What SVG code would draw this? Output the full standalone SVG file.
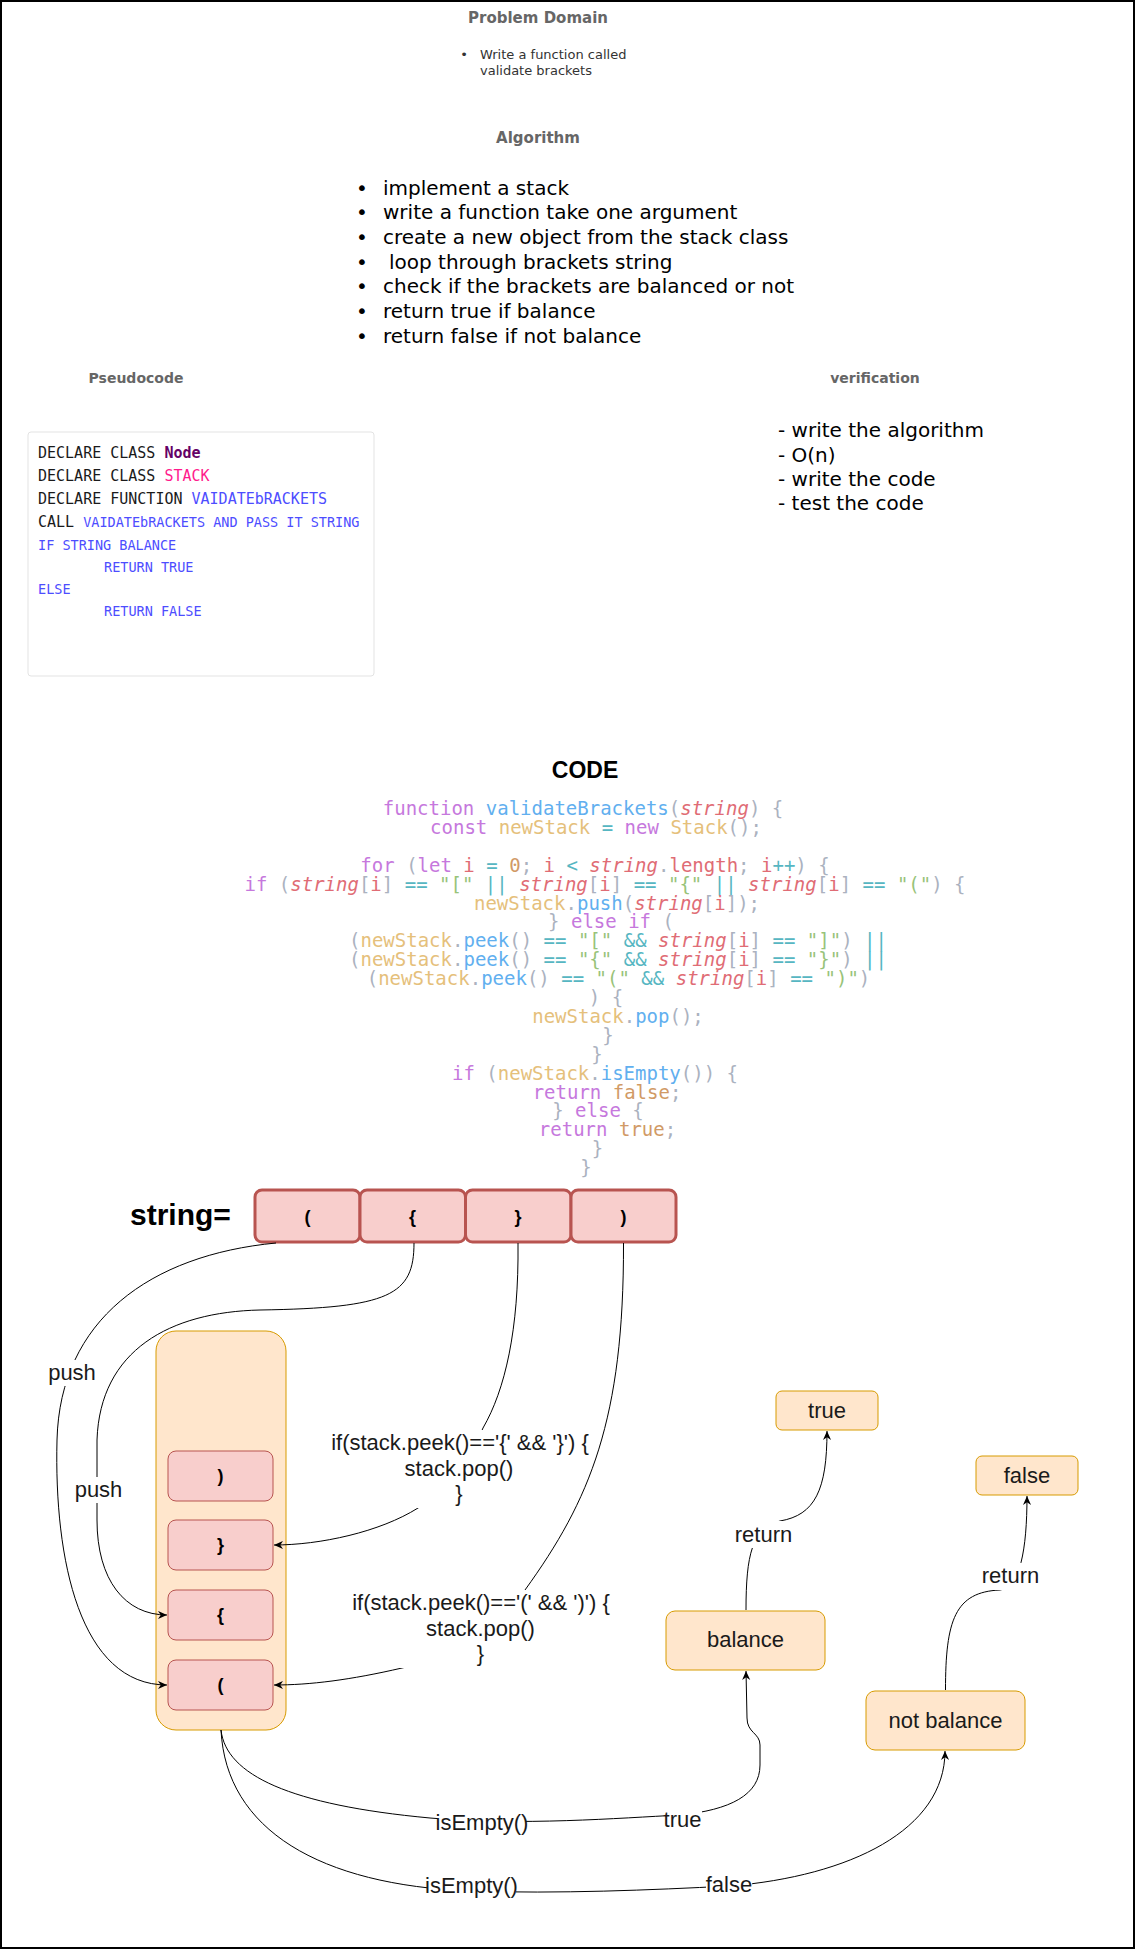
<svg xmlns="http://www.w3.org/2000/svg" width="1136" height="1951" viewBox="0 0 1136 1951">
<defs>
<style>
.title{font-family:"DejaVu Sans",sans-serif;font-weight:bold;font-size:14px;fill:#666666;text-anchor:middle}
.comic{font-family:"DejaVu Sans",sans-serif;font-size:20px;fill:#000}
.pd{font-family:"DejaVu Sans",sans-serif;font-size:13px;fill:#333}
.pc{font-family:"DejaVu Sans Mono",monospace;font-size:15px;fill:#1a1a1a}
.pcs{font-size:13.5px}
.blue{fill:#4d4dff}
.code{font-family:"DejaVu Sans Mono",monospace;font-size:19px;text-anchor:middle}
.k{fill:#c678dd}.f{fill:#61afef}.v{fill:#e06c75;font-style:italic}.r{fill:#e06c75}.y{fill:#e5c07b}.o{fill:#56b6c2}.s{fill:#98c379}.n{fill:#d19a66}.p{fill:#abb2bf}
.sbox{fill:#f8cecc;stroke:#b85450;stroke-width:3}
.ibox{fill:#f8cecc;stroke:#b85450;stroke-width:1}
.obox{fill:#ffe6cc;stroke:#d79b00;stroke-width:1}
.btxt{font-family:"Liberation Sans",Arial,sans-serif;font-weight:bold;font-size:18px;fill:#000;text-anchor:middle}
.ntxt{font-family:"Liberation Sans",Arial,sans-serif;font-size:22px;fill:#1a1a1a;text-anchor:middle}
.lbl{font-family:"Liberation Sans",Arial,sans-serif;font-size:22px;fill:#1a1a1a;text-anchor:middle}
.edge{fill:none;stroke:#000;stroke-width:1}
.lbg{fill:#fff}
</style>
<marker id="arr" viewBox="0 0 10 10" refX="10" refY="5" markerWidth="10" markerHeight="9" markerUnits="userSpaceOnUse" orient="auto">
<path d="M0,0.5 L10,5 L0,9.5 L3,5 z" fill="#000"/>
</marker>
</defs>
<rect x="1" y="1" width="1133" height="1947" fill="#fff" stroke="#000" stroke-width="2"/>

<g id="node-problem-domain">
<text class="title" x="538" y="23" style="font-size:15px">Problem Domain</text>
<text class="pd" x="464" y="59" text-anchor="middle">•</text>
<text class="pd" x="480" y="59">Write a function called</text>
<text class="pd" x="480" y="75">validate brackets</text>
</g>

<g id="node-algorithm">
<text class="title" x="538" y="143" style="font-size:15px">Algorithm</text>
<g class="comic">
<text x="362" y="194.5" text-anchor="middle">•</text><text x="383" y="194.5">implement a stack</text>
<text x="362" y="219.2" text-anchor="middle">•</text><text x="383" y="219.2">write a function take one argument</text>
<text x="362" y="243.9" text-anchor="middle">•</text><text x="383" y="243.9">create a new object from the stack class</text>
<text x="362" y="268.6" text-anchor="middle">•</text><text x="389" y="268.6">loop through brackets string</text>
<text x="362" y="293.3" text-anchor="middle">•</text><text x="383" y="293.3">check if the brackets are balanced or not</text>
<text x="362" y="318" text-anchor="middle">•</text><text x="383" y="318">return true if balance</text>
<text x="362" y="342.7" text-anchor="middle">•</text><text x="383" y="342.7">return false if not balance</text>
</g>
</g>

<g id="node-pseudocode">
<text class="title" x="136" y="383">Pseudocode</text>
<rect x="28" y="432" width="346" height="244" rx="3" fill="#fff" stroke="#e3e3e3" stroke-width="1"/>
<text class="pc" x="38" y="458">DECLARE CLASS <tspan style="fill:#660066;font-weight:bold">Node</tspan></text>
<text class="pc" x="38" y="481">DECLARE CLASS <tspan style="fill:#ff1a8c">STACK</tspan></text>
<text class="pc" x="38" y="504">DECLARE FUNCTION <tspan class="blue">VAIDATEbRACKETS</tspan></text>
<text class="pc" x="38" y="527">CALL <tspan class="blue pcs">VAIDATEbRACKETS AND PASS IT STRING</tspan></text>
<text class="pc pcs blue" x="38" y="550">IF STRING BALANCE</text>
<text class="pc pcs blue" x="104" y="572">RETURN TRUE</text>
<text class="pc pcs blue" x="38" y="594">ELSE</text>
<text class="pc pcs blue" x="104" y="616">RETURN FALSE</text>
</g>

<g id="node-verification">
<text class="title" x="875" y="383">verification</text>
<g class="comic">
<text x="778" y="437">- write the algorithm</text>
<text x="778" y="461.5">- O(n)</text>
<text x="778" y="485.5">- write the code</text>
<text x="778" y="509.5">- test the code</text>
</g>
</g>

<g id="node-code">
<text x="585" y="778" text-anchor="middle" style="font-family:'Liberation Sans',Arial,sans-serif;font-weight:bold;font-size:23px;fill:#000">CODE</text>
<g class="code">
<text x="583" y="815"><tspan class="k">function</tspan> <tspan class="f">validateBrackets</tspan><tspan class="p">(</tspan><tspan class="v">string</tspan><tspan class="p">) {</tspan></text>
<text x="596" y="833.9"><tspan class="k">const</tspan> <tspan class="y">newStack</tspan> <tspan class="o">=</tspan> <tspan class="k">new</tspan> <tspan class="y">Stack</tspan><tspan class="p">();</tspan></text>
<text x="595" y="871.7"><tspan class="k">for</tspan> <tspan class="p">(</tspan><tspan class="k">let</tspan> <tspan class="r">i</tspan> <tspan class="o">=</tspan> <tspan class="n">0</tspan><tspan class="p">;</tspan> <tspan class="r">i</tspan> <tspan class="o">&lt;</tspan> <tspan class="v">string</tspan><tspan class="p">.</tspan><tspan class="r">length</tspan><tspan class="p">;</tspan> <tspan class="r">i</tspan><tspan class="o">++</tspan><tspan class="p">) {</tspan></text>
<text x="605" y="890.6"><tspan class="k">if</tspan> <tspan class="p">(</tspan><tspan class="v">string</tspan><tspan class="p">[</tspan><tspan class="r">i</tspan><tspan class="p">]</tspan> <tspan class="o">==</tspan> <tspan class="s">"["</tspan> <tspan class="o">||</tspan> <tspan class="v">string</tspan><tspan class="p">[</tspan><tspan class="r">i</tspan><tspan class="p">]</tspan> <tspan class="o">==</tspan> <tspan class="s">"{"</tspan> <tspan class="o">||</tspan> <tspan class="v">string</tspan><tspan class="p">[</tspan><tspan class="r">i</tspan><tspan class="p">]</tspan> <tspan class="o">==</tspan> <tspan class="s">"("</tspan><tspan class="p">) {</tspan></text>
<text x="617" y="909.5"><tspan class="y">newStack</tspan><tspan class="p">.</tspan><tspan class="f">push</tspan><tspan class="p">(</tspan><tspan class="v">string</tspan><tspan class="p">[</tspan><tspan class="r">i</tspan><tspan class="p">]);</tspan></text>
<text x="611" y="928.4"><tspan class="p">}</tspan> <tspan class="k">else</tspan> <tspan class="k">if</tspan> <tspan class="p">(</tspan></text>
<text x="618" y="947.3"><tspan class="p">(</tspan><tspan class="y">newStack</tspan><tspan class="p">.</tspan><tspan class="f">peek</tspan><tspan class="p">()</tspan> <tspan class="o">==</tspan> <tspan class="s">"["</tspan> <tspan class="o">&amp;&amp;</tspan> <tspan class="v">string</tspan><tspan class="p">[</tspan><tspan class="r">i</tspan><tspan class="p">]</tspan> <tspan class="o">==</tspan> <tspan class="s">"]"</tspan><tspan class="p">)</tspan> <tspan class="o">||</tspan></text>
<text x="618" y="966.2"><tspan class="p">(</tspan><tspan class="y">newStack</tspan><tspan class="p">.</tspan><tspan class="f">peek</tspan><tspan class="p">()</tspan> <tspan class="o">==</tspan> <tspan class="s">"{"</tspan> <tspan class="o">&amp;&amp;</tspan> <tspan class="v">string</tspan><tspan class="p">[</tspan><tspan class="r">i</tspan><tspan class="p">]</tspan> <tspan class="o">==</tspan> <tspan class="s">"}"</tspan><tspan class="p">)</tspan> <tspan class="o">||</tspan></text>
<text x="618.5" y="985.1"><tspan class="p">(</tspan><tspan class="y">newStack</tspan><tspan class="p">.</tspan><tspan class="f">peek</tspan><tspan class="p">()</tspan> <tspan class="o">==</tspan> <tspan class="s">"("</tspan> <tspan class="o">&amp;&amp;</tspan> <tspan class="v">string</tspan><tspan class="p">[</tspan><tspan class="r">i</tspan><tspan class="p">]</tspan> <tspan class="o">==</tspan> <tspan class="s">")"</tspan><tspan class="p">)</tspan></text>
<text x="606" y="1004"><tspan class="p">) {</tspan></text>
<text x="618" y="1022.9"><tspan class="y">newStack</tspan><tspan class="p">.</tspan><tspan class="f">pop</tspan><tspan class="p">();</tspan></text>
<text x="608" y="1041.8"><tspan class="p">}</tspan></text>
<text x="597" y="1060.7"><tspan class="p">}</tspan></text>
<text x="595" y="1079.6"><tspan class="k">if</tspan> <tspan class="p">(</tspan><tspan class="y">newStack</tspan><tspan class="p">.</tspan><tspan class="f">isEmpty</tspan><tspan class="p">()) {</tspan></text>
<text x="607" y="1098.5"><tspan class="k">return</tspan> <tspan class="n">false</tspan><tspan class="p">;</tspan></text>
<text x="598" y="1117.4"><tspan class="p">}</tspan> <tspan class="k">else</tspan> <tspan class="p">{</tspan></text>
<text x="607.5" y="1136.3"><tspan class="k">return</tspan> <tspan class="n">true</tspan><tspan class="p">;</tspan></text>
<text x="597.5" y="1155.2"><tspan class="p">}</tspan></text>
<text x="586" y="1174.1"><tspan class="p">}</tspan></text>
</g>
</g>

<g id="node-string-label">
<text x="130" y="1225" style="font-family:'Liberation Sans',Arial,sans-serif;font-weight:bold;font-size:30px;fill:#000">string=</text>
</g>
<g id="node-str-0"><rect class="sbox" x="255" y="1190" width="105" height="52" rx="7"/><text class="btxt" x="307.5" y="1223">(</text></g>
<g id="node-str-1"><rect class="sbox" x="360" y="1190" width="105.5" height="52" rx="7"/><text class="btxt" x="412.5" y="1223">{</text></g>
<g id="node-str-2"><rect class="sbox" x="465.5" y="1190" width="105.5" height="52" rx="7"/><text class="btxt" x="518" y="1223">}</text></g>
<g id="node-str-3"><rect class="sbox" x="571" y="1190" width="105" height="52" rx="7"/><text class="btxt" x="623.5" y="1223">)</text></g>

<g id="node-stack"><rect class="obox" x="156" y="1331" width="130" height="399" rx="20"/></g>
<g id="node-stack-3"><rect class="ibox" x="168" y="1451" width="105" height="50" rx="8"/><text class="btxt" x="220.5" y="1481.5">)</text></g>
<g id="node-stack-2"><rect class="ibox" x="168" y="1520" width="105" height="50" rx="8"/><text class="btxt" x="220.5" y="1550.5">}</text></g>
<g id="node-stack-1"><rect class="ibox" x="168" y="1590" width="105" height="50" rx="8"/><text class="btxt" x="220.5" y="1620.5">{</text></g>
<g id="node-stack-0"><rect class="ibox" x="168" y="1660" width="105" height="50" rx="8"/><text class="btxt" x="220.5" y="1690.5">(</text></g>

<g id="node-true"><rect class="obox" x="776" y="1391" width="102" height="39" rx="6"/><text class="ntxt" x="827" y="1418">true</text></g>
<g id="node-false"><rect class="obox" x="976" y="1456" width="102" height="39" rx="6"/><text class="ntxt" x="1027" y="1483">false</text></g>
<g id="node-balance"><rect class="obox" x="666" y="1611" width="159" height="59" rx="9"/><text class="ntxt" x="745.5" y="1647">balance</text></g>
<g id="node-notbalance"><rect class="obox" x="866" y="1691" width="159" height="59" rx="9"/><text class="ntxt" x="945.5" y="1728">not balance</text></g>

<g id="connectors">
<path class="edge" marker-end="url(#arr)" d="M276,1243 C150,1255 60,1320 57,1440 C54,1560 80,1685 167,1685"/>
<rect class="lbg" x="47" y="1360" width="50" height="26"/><text class="lbl" x="72" y="1380">push</text>

<path class="edge" marker-end="url(#arr)" d="M414,1243 C414,1295 390,1308 260,1310 C170,1312 100,1350 97,1440 L97,1520 C97,1580 125,1615 167,1615"/>
<rect class="lbg" x="74" y="1477" width="50" height="26"/><text class="lbl" x="98.5" y="1497">push</text>

<path class="edge" marker-end="url(#arr)" d="M518,1243 C519,1330 505,1390 483,1428 C470,1460 440,1495 418,1508 C380,1532 320,1545 274,1545"/>
<rect class="lbg" x="330" y="1430" width="260" height="78"/>
<text class="lbl" x="460" y="1450">if(stack.peek()=='{' &amp;&amp; '}') {</text>
<text class="lbl" x="459" y="1476">stack.pop()</text>
<text class="lbl" x="459" y="1501">}</text>

<path class="edge" marker-end="url(#arr)" d="M623.5,1243 C624,1420 590,1500 525,1590 C490,1640 440,1660 402,1668 C350,1680 310,1685 274,1685"/>
<rect class="lbg" x="351" y="1590" width="260" height="78"/>
<text class="lbl" x="481" y="1610">if(stack.peek()=='(' &amp;&amp; ')') {</text>
<text class="lbl" x="480.5" y="1636">stack.pop()</text>
<text class="lbl" x="480.5" y="1661">}</text>

<path class="edge" marker-end="url(#arr)" d="M746,1610 C746,1555 752,1528 780,1521 C815,1515 827,1490 827,1431"/>
<rect class="lbg" x="736" y="1521" width="55" height="27"/><text class="lbl" x="763.5" y="1541.5">return</text>

<path class="edge" marker-end="url(#arr)" d="M945.5,1690 C945.5,1620 955,1592 1000,1590 C1020,1588 1027,1550 1027,1496"/>
<rect class="lbg" x="983" y="1563" width="56" height="27"/><text class="lbl" x="1010.5" y="1583">return</text>

<path class="edge" marker-end="url(#arr)" d="M221,1730 C226,1775 290,1805 430,1818 C520,1826 620,1818 680,1815 C730,1810 760,1795 760,1765 L760,1745 C760,1733 747,1733 747,1718 L746,1671"/>
<rect class="lbg" x="438" y="1810" width="88" height="27"/><text class="lbl" x="482" y="1830">isEmpty()</text>
<rect class="lbg" x="664" y="1808" width="38" height="25"/><text class="lbl" x="682.5" y="1827">true</text>

<path class="edge" marker-end="url(#arr)" d="M221,1730 C226,1830 320,1885 470,1891 C560,1894 650,1890 730,1886 C850,1876 945,1830 945,1751"/>
<rect class="lbg" x="427" y="1873" width="89" height="27"/><text class="lbl" x="471.5" y="1893">isEmpty()</text>
<rect class="lbg" x="706" y="1872" width="46" height="26"/><text class="lbl" x="729" y="1892">false</text>
</g>
</svg>
